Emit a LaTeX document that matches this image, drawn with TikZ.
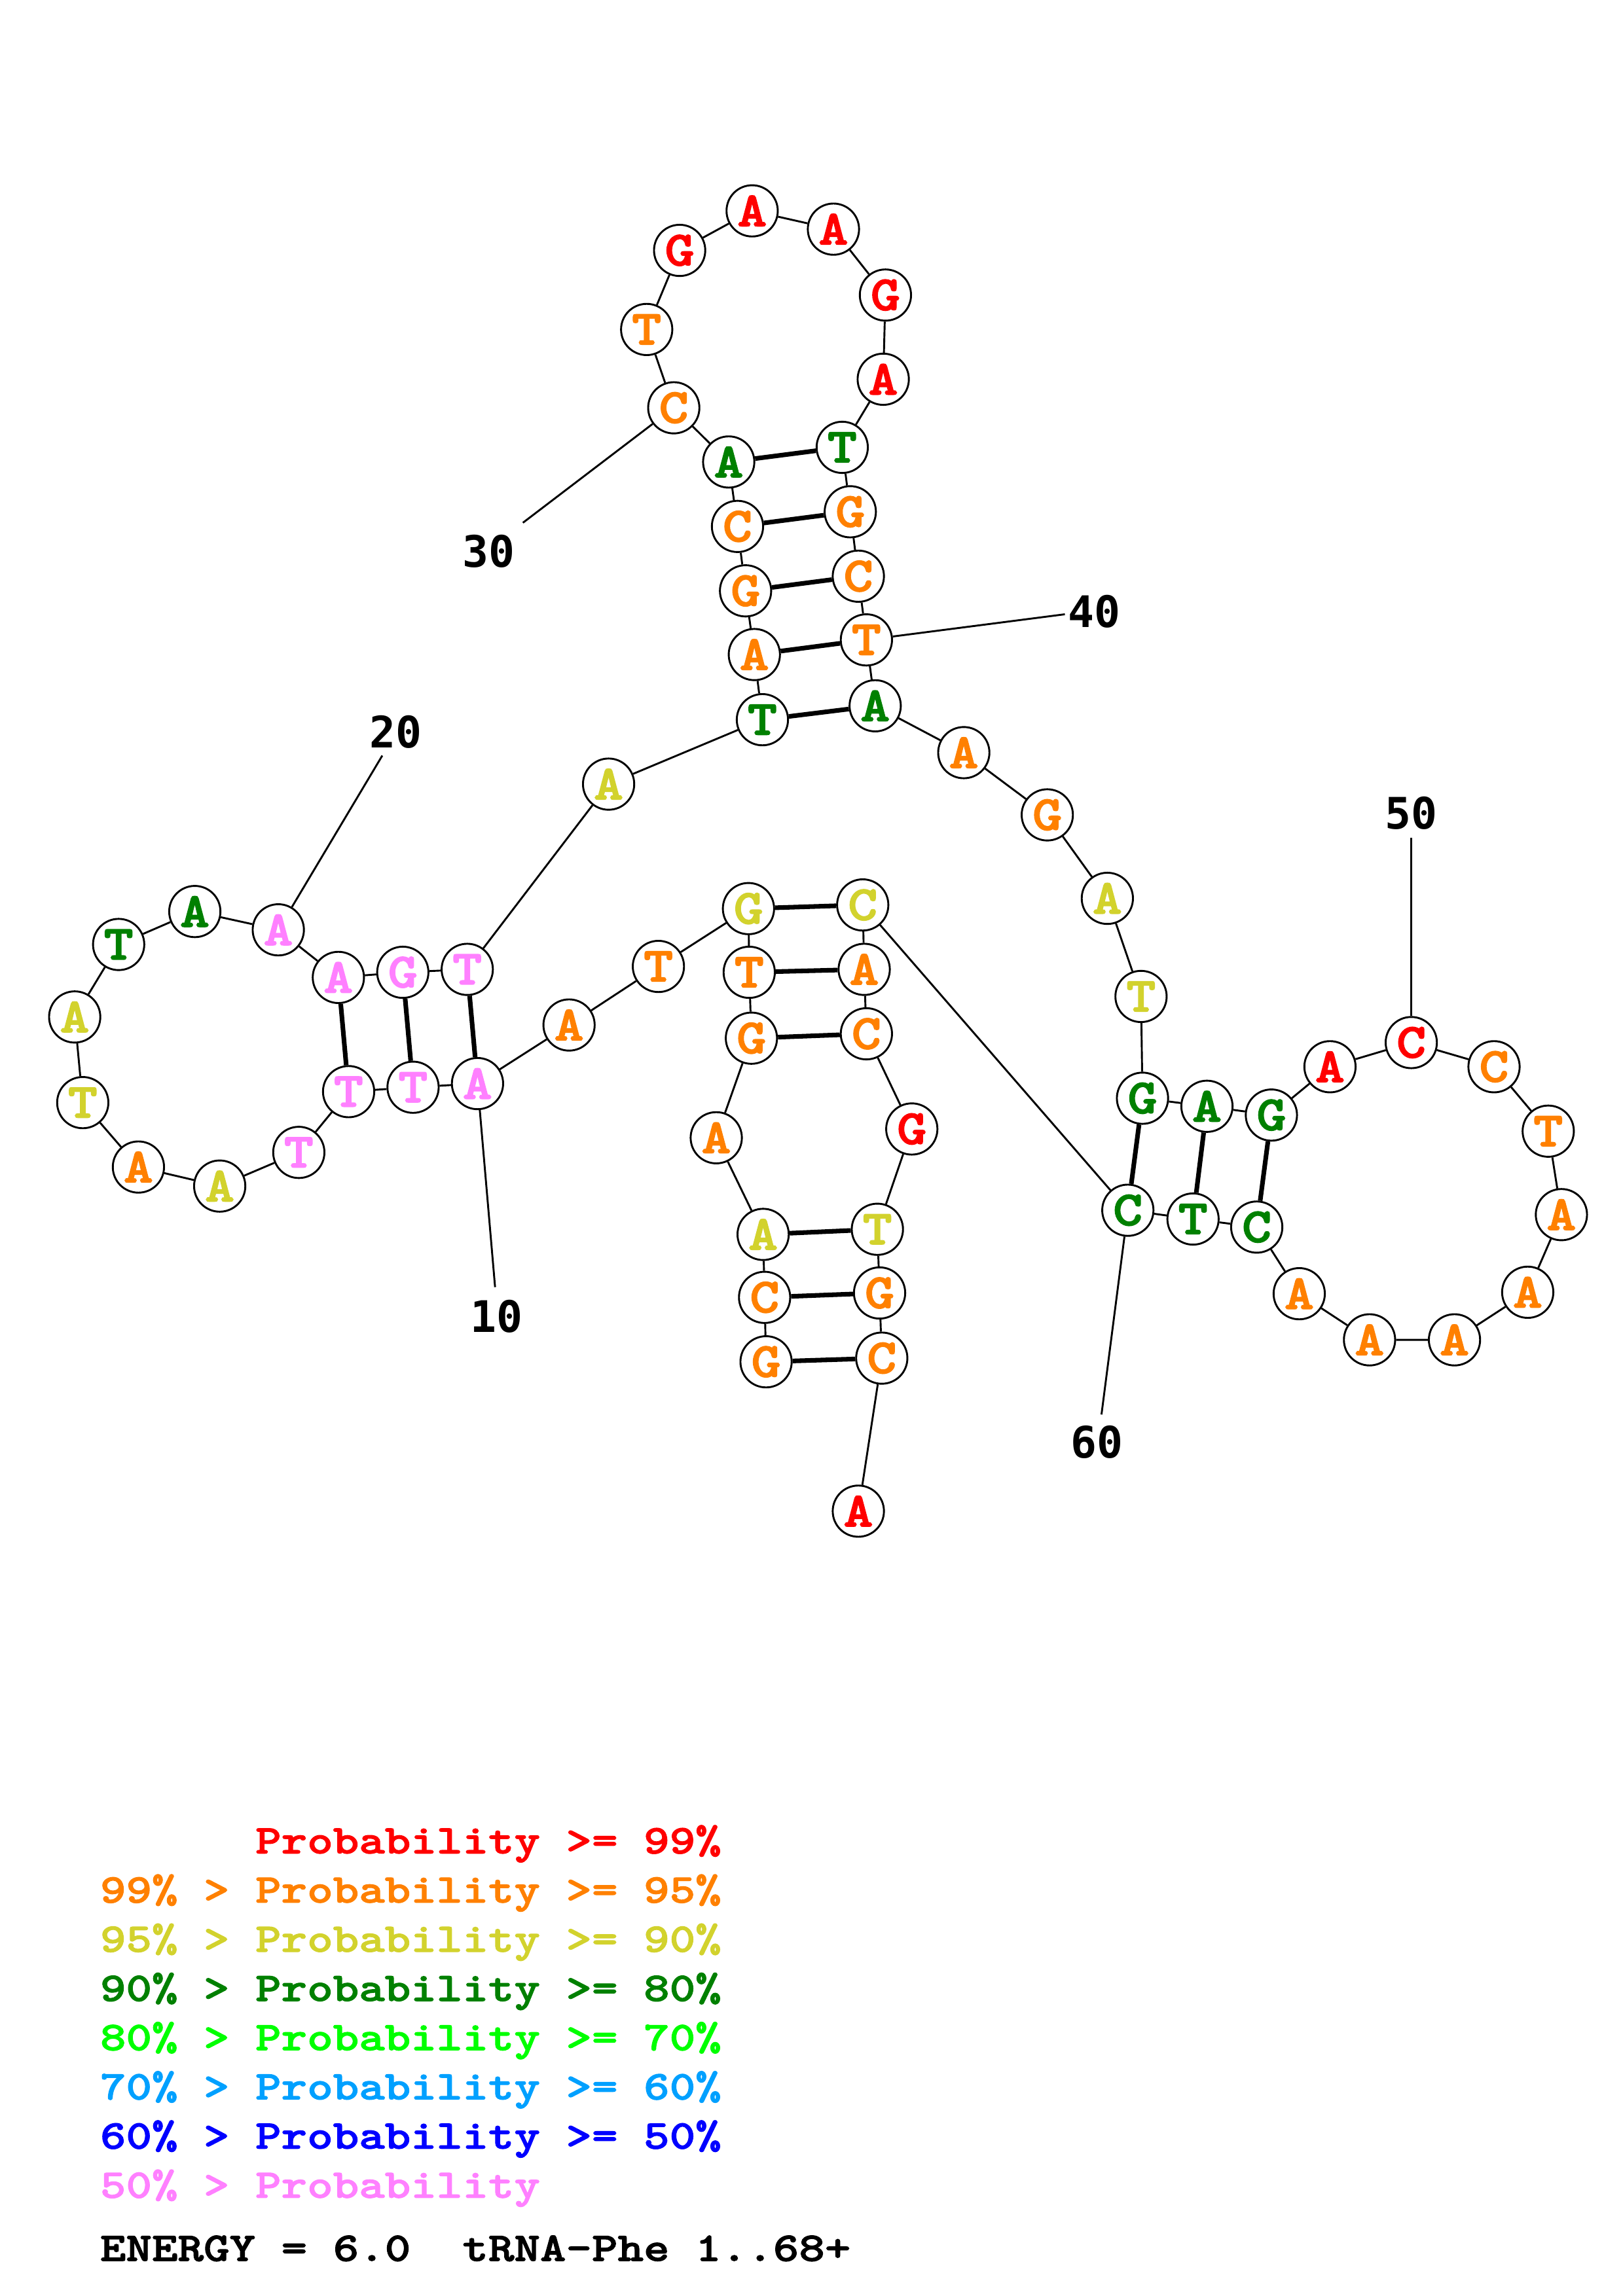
\documentclass[tikz,border=0pt]{standalone}
\usepackage{fontspec}
\newfontfamily\ntfont{lmmonolt10-bold.otf}[FakeStretch=1.15,FakeBold=2.2]
\newfontfamily\legfont{lmmonolt10-bold.otf}[FakeStretch=1.21,FakeBold=1.8]
\newfontfamily\numfont{DejaVu Sans Mono}
\usepackage{tikz}
\usepackage{xcolor}
\definecolor{pr99}{RGB}{255,0,0}
\definecolor{pr95}{RGB}{255,128,0}
\definecolor{pr90}{RGB}{210,210,45}
\definecolor{pr80}{RGB}{0,128,0}
\definecolor{pr70}{RGB}{0,255,0}
\definecolor{pr60}{RGB}{0,160,255}
\definecolor{pr50}{RGB}{0,0,255}
\definecolor{prlow}{RGB}{255,128,255}
\tikzset{
  nt/.style={circle, draw, line width=0.7pt, fill=white, minimum size=6.63mm, inner sep=0pt,
    font=\ntfont\fontsize{18}{18}\selectfont},
  backbone/.style={line width=0.7pt},
  pairline/.style={line width=1.7pt},
  numlab/.style={inner sep=0pt, font=\numfont\bfseries\fontsize{16}{16}\selectfont},
  legend/.style={anchor=base west, inner sep=0pt, font=\legfont\fontsize{15}{18}\selectfont}
}

\begin{document}
\begin{tikzpicture}[x=0.018953cm, y=-0.018953cm]
  \useasboundingbox (0,0) rectangle (1108,1568);
  % Acceptor stem, 5' side
  \node[nt, text=pr95] (g1) at (523,930) {G};
  \node[nt, text=pr95] (c2) at (522,886) {C};
  \node[nt, text=pr90] (a3) at (521,843) {A};
  \node[nt, text=pr95] (a4) at (489,777) {A};
  \node[nt, text=pr95] (g5) at (513,709) {G};
  \node[nt, text=pr95] (t6) at (511.5,664) {T};
  \node[nt, text=pr90] (g7) at (511,620.5) {G};
  \node[nt, text=pr95] (t8) at (449.5,660) {T};
  \node[nt, text=pr95] (a9) at (388.5,700) {A};
  % D arm
  \node[nt, text=prlow] (a10) at (326,740) {A};
  \node[nt, text=prlow] (t11) at (282,742.5) {T};
  \node[nt, text=prlow] (t12) at (238,745.5) {T};
  \node[nt, text=prlow] (t13) at (204,787) {T};
  \node[nt, text=pr90] (a14) at (150,810) {A};
  \node[nt, text=pr95] (a15) at (94.5,797) {A};
  \node[nt, text=pr90] (t16) at (56.5,753) {T};
  \node[nt, text=pr90] (a17) at (51,694.5) {A};
  \node[nt, text=pr80] (t18) at (81,645) {T};
  \node[nt, text=pr80] (a19) at (133,622.5) {A};
  \node[nt, text=prlow] (a20) at (190,635) {A};
  \node[nt, text=prlow] (a21) at (231,667.5) {A};
  \node[nt, text=prlow] (g22) at (275,664) {G};
  \node[nt, text=prlow] (t23) at (319,662) {T};
  \node[nt, text=pr90] (a24) at (415.5,535.5) {A};
  % Anticodon arm
  \node[nt, text=pr80] (t25) at (520.5,491.5) {T};
  \node[nt, text=pr95] (a26) at (515,447) {A};
  \node[nt, text=pr95] (g27) at (509,403.5) {G};
  \node[nt, text=pr95] (c28) at (503.5,359.5) {C};
  \node[nt, text=pr80] (a29) at (497.5,315.5) {A};
  \node[nt, text=pr95] (c30) at (460,278.5) {C};
  \node[nt, text=pr95] (t31) at (441.5,225) {T};
  \node[nt, text=pr99] (g32) at (464,171) {G};
  \node[nt, text=pr99] (a33) at (513.5,144) {A};
  \node[nt, text=pr99] (a34) at (569,156.5) {A};
  \node[nt, text=pr99] (g35) at (604.5,201.5) {G};
  \node[nt, text=pr99] (a36) at (603,259) {A};
  \node[nt, text=pr80] (t37) at (575,305.5) {T};
  \node[nt, text=pr95] (g38) at (580.5,349.5) {G};
  \node[nt, text=pr95] (c39) at (586,393.5) {C};
  \node[nt, text=pr95] (t40) at (591.5,437) {T};
  \node[nt, text=pr80] (a41) at (597.5,482) {A};
  \node[nt, text=pr95] (a42) at (658,514) {A};
  \node[nt, text=pr95] (g43) at (715,556.5) {G};
  \node[nt, text=pr90] (a44) at (756,613.5) {A};
  \node[nt, text=pr90] (t45) at (779,680.5) {T};
  % T arm
  \node[nt, text=pr80] (g46) at (780,750) {G};
  \node[nt, text=pr80] (a47) at (824,755.5) {A};
  \node[nt, text=pr80] (g48) at (868,761.5) {G};
  \node[nt, text=pr99] (a49) at (908,728.5) {A};
  \node[nt, text=pr99] (c50) at (963.5,712) {C};
  \node[nt, text=pr95] (c51) at (1020,728.5) {C};
  \node[nt, text=pr95] (t52) at (1057,772.5) {T};
  \node[nt, text=pr95] (a53) at (1066,829.5) {A};
  \node[nt, text=pr95] (a54) at (1043,882.5) {A};
  \node[nt, text=pr95] (a55) at (993,915) {A};
  \node[nt, text=pr95] (a56) at (935,915) {A};
  \node[nt, text=pr95] (a57) at (887,883.5) {A};
  \node[nt, text=pr80] (c58) at (858,838) {C};
  \node[nt, text=pr80] (t59) at (814.5,832.5) {T};
  \node[nt, text=pr80] (c60) at (770,826.5) {C};
  % Acceptor stem, 3' side
  \node[nt, text=pr90] (c61) at (589,618) {C};
  \node[nt, text=pr95] (a62) at (590,662) {A};
  \node[nt, text=pr95] (c63) at (591.5,706) {C};
  \node[nt, text=pr99] (g64) at (622.5,771) {G};
  \node[nt, text=pr90] (t65) at (599,839.5) {T};
  \node[nt, text=pr95] (g66) at (600.5,883) {G};
  \node[nt, text=pr95] (c67) at (602,927.5) {C};
  \node[nt, text=pr99] (a68) at (586,1032) {A};
  % Backbone
  \draw[backbone] (g1) -- (c2) -- (a3) -- (a4) -- (g5) -- (t6) -- (g7) -- (t8) -- (a9) -- (a10)
    -- (t11) -- (t12) -- (t13) -- (a14) -- (a15) -- (t16) -- (a17) -- (t18) -- (a19) -- (a20)
    -- (a21) -- (g22) -- (t23) -- (a24) -- (t25) -- (a26) -- (g27) -- (c28) -- (a29) -- (c30)
    -- (t31) -- (g32) -- (a33) -- (a34) -- (g35) -- (a36) -- (t37) -- (g38) -- (c39) -- (t40)
    -- (a41) -- (a42) -- (g43) -- (a44) -- (t45) -- (g46) -- (a47) -- (g48) -- (a49) -- (c50)
    -- (c51) -- (t52) -- (a53) -- (a54) -- (a55) -- (a56) -- (a57) -- (c58) -- (t59) -- (c60)
    -- (c61) -- (a62) -- (c63) -- (g64) -- (t65) -- (g66) -- (c67) -- (a68);
  % Base pairs
  \draw[pairline] (g1) -- (c67);
  \draw[pairline] (c2) -- (g66);
  \draw[pairline] (a3) -- (t65);
  \draw[pairline] (g5) -- (c63);
  \draw[pairline] (t6) -- (a62);
  \draw[pairline] (g7) -- (c61);
  \draw[pairline] (a10) -- (t23);
  \draw[pairline] (t11) -- (g22);
  \draw[pairline] (t12) -- (a21);
  \draw[pairline] (t25) -- (a41);
  \draw[pairline] (a26) -- (t40);
  \draw[pairline] (g27) -- (c39);
  \draw[pairline] (c28) -- (g38);
  \draw[pairline] (a29) -- (t37);
  \draw[pairline] (g46) -- (c60);
  \draw[pairline] (a47) -- (t59);
  \draw[pairline] (g48) -- (c58);
  % Position numbers
  \node[numlab] (lab10) at (339,899) {10};
  \node[numlab] (lab20) at (270,500) {20};
  \node[numlab] (lab30) at (333.5,376.5) {30};
  \node[numlab] (lab40) at (747,417.5) {40};
  \node[numlab] (lab50) at (963.5,555.5) {50};
  \node[numlab] (lab60) at (749,985) {60};
  \coordinate (e10) at (338,879);
  \coordinate (e20) at (261,516);
  \coordinate (e30) at (357,357);
  \coordinate (e40) at (727,419.5);
  \coordinate (e50) at (963.5,572);
  \coordinate (e60) at (752,966);
  \draw[backbone] (a10) -- (e10);
  \draw[backbone] (a20) -- (e20);
  \draw[backbone] (c30) -- (e30);
  \draw[backbone] (t40) -- (e40);
  \draw[backbone] (c50) -- (e50);
  \draw[backbone] (c60) -- (e60);
  % Legend
  \node[legend, text=pr99] (leg1) at (68,1265.7) {\phantom{99\% >}\ Probability >= 99\%};
  \node[legend, text=pr95] (leg2) at (68,1299.3) {99\% > Probability >= 95\%};
  \node[legend, text=pr90] (leg3) at (68,1332.9) {95\% > Probability >= 90\%};
  \node[legend, text=pr80] (leg4) at (68,1366.5) {90\% > Probability >= 80\%};
  \node[legend, text=pr70] (leg5) at (68,1400.1) {80\% > Probability >= 70\%};
  \node[legend, text=pr60] (leg6) at (68,1433.7) {70\% > Probability >= 60\%};
  \node[legend, text=pr50] (leg7) at (68,1467.3) {60\% > Probability >= 50\%};
  \node[legend, text=prlow] (leg8) at (68,1500.9) {50\% > Probability};
  \node[legend] (energy) at (68,1544) {ENERGY = 6.0\ \ tRNA-Phe 1..68+};
\end{tikzpicture}
\end{document}
